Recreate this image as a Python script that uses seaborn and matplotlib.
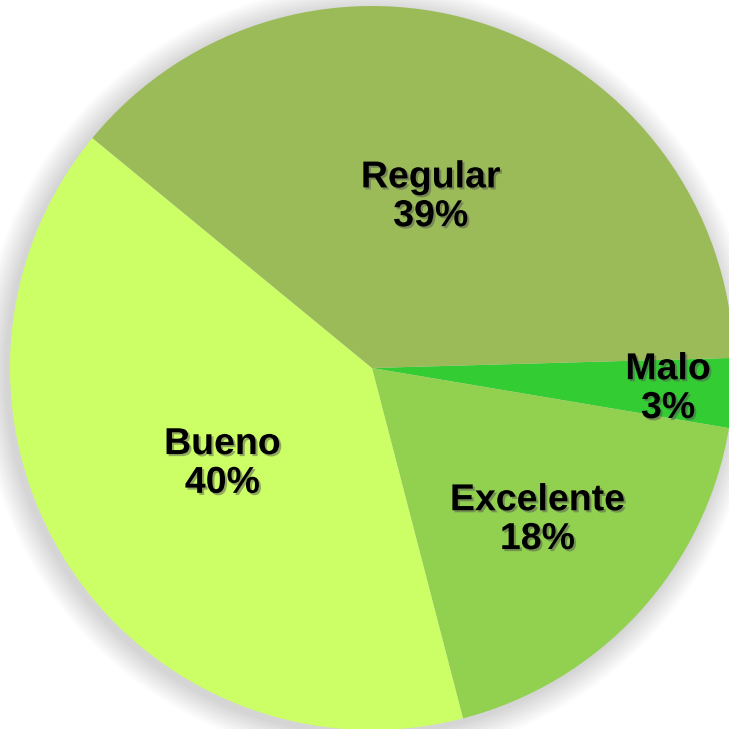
import numpy as np
import seaborn as sns
import matplotlib.pyplot as plt
import matplotlib.patheffects as pe
from matplotlib.patches import Circle

categories = ["Malo", "Excelente", "Bueno", "Regular"]
values = [3.1, 18.3, 40.0, 38.6]
colors = ["#33CC33", "#92D050", "#CCFF66", "#9BBB59"]

sns.set_theme(style="white")
plt.rcParams['font.family'] = ['Liberation Sans', 'DejaVu Sans']

fig = plt.figure(figsize=(7.29, 7.29), dpi=100, facecolor="white")
ax = fig.add_axes([0, 0, 1, 1])

# soft shadow around the pie
for i in range(14):
    r = 1.0 + 0.005 * (14 - i)
    ax.add_patch(Circle((-0.01, -0.01), r, color="black", alpha=0.012, lw=0, zorder=0))

wedges, texts, autotexts = ax.pie(values, colors=colors, startangle=1.6, counterclock=False,
                                  autopct="%1.0f%%", pctdistance=0.6,
                                  wedgeprops=dict(linewidth=0, zorder=1))

label_dist = [0.82, 0.62, 0.49, 0.50]
shadow = [pe.withSimplePatchShadow(offset=(1.5, -1.5), shadow_rgbFace="#555555", alpha=0.5)]
for w, t, name, d in zip(wedges, autotexts, categories, label_dist):
    ang = np.deg2rad((w.theta1 + w.theta2) / 2)
    t.set_position((d * np.cos(ang), d * np.sin(ang)))
    t.set_text(name + "\n" + t.get_text())
    t.set_fontsize(27)
    t.set_fontweight("bold")
    t.set_color("black")
    t.set_ha("center")
    t.set_va("center")
    t.set_linespacing(1.1)
    t.set_path_effects(shadow)

ax.set_xlim(-372 / 362, (729 - 372) / 362)
ax.set_ylim(-(729 - 368) / 362, 368 / 362)
ax.set_aspect("equal")
ax.axis("off")

fig.savefig("out.png", dpi=100, facecolor="white")
